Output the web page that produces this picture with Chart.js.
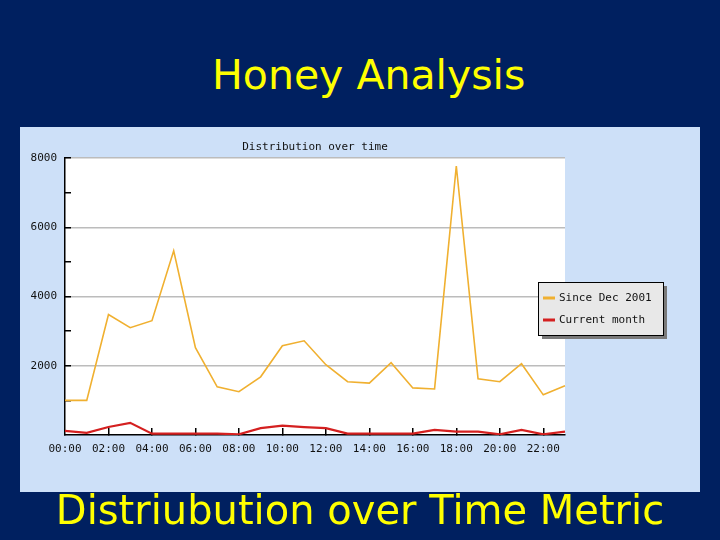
<!DOCTYPE html>
<html><head><meta charset="utf-8">
<script src="https://cdn.jsdelivr.net/npm/chart.js@4/dist/chart.umd.min.js"></script>
<style>
html,body{margin:0;padding:0;}
body{width:720px;height:540px;background:#002060;position:relative;overflow:hidden;font-family:"DejaVu Sans",sans-serif;}
#title{position:absolute;left:212px;top:55px;color:#ffff00;font-size:41px;line-height:41px;white-space:nowrap;}
#panel{position:absolute;left:20px;top:127px;width:680px;height:365px;background:#cde0f8;}
#foot{position:absolute;left:0;top:490px;width:720px;text-align:center;color:#ffff00;font-size:40px;line-height:40px;white-space:nowrap;z-index:2;}
</style></head>
<body>
<div id="title">Honey Analysis</div>
<div id="panel"><canvas id="c" width="680" height="365"></canvas></div>
<div id="foot">Distriubution over Time Metric</div>
<script>
const chartTitle = "Distribution over time";
const hours = ["00:00","01:00","02:00","03:00","04:00","05:00","06:00","07:00","08:00","09:00","10:00","11:00",
               "12:00","13:00","14:00","15:00","16:00","17:00","18:00","19:00","20:00","21:00","22:00","23:00"];
const seriesNames = ["Since Dec 2001","Current month"];
const sinceDec2001 = [1000,1000,3480,3100,3300,5320,2520,1390,1250,1680,2580,2720,
                      2030,1540,1500,2090,1360,1330,7770,1620,1540,2060,1160,1420];
const currentMonth = [120,60,230,350,40,40,40,40,20,200,270,230,
                      200,40,40,40,40,150,100,100,20,150,20,100];
const yTicks = [0,1000,2000,3000,4000,5000,6000,7000,8000];
const seriesColors = ["#f0b030","#d42020"];

const bgPlugin = {
  id: 'plotBg',
  beforeDraw(chart) {
    const ctx = chart.ctx, a = chart.chartArea;
    ctx.save();
    ctx.fillStyle = '#ffffff';
    ctx.fillRect(a.left, a.top, a.right - a.left, a.bottom - a.top);
    ctx.restore();
  }
};
const legendPlugin = {
  id: 'boxLegend',
  afterDraw(chart) {
    const ctx = chart.ctx;
    const x = 518, y = 155, w = 125, h = 53;
    ctx.save();
    ctx.fillStyle = '#7a7a7a';
    ctx.fillRect(x + 4, y + 4, w, h);
    ctx.fillStyle = '#e8e8e8';
    ctx.fillRect(x, y, w, h);
    ctx.strokeStyle = '#000';
    ctx.lineWidth = 1;
    ctx.strokeRect(x + 0.5, y + 0.5, w, h);
    ctx.font = '11px "DejaVu Sans Mono", monospace';
    ctx.textBaseline = 'middle';
    chart.data.datasets.forEach((ds, i) => {
      const ly = y + 16 + i * 22;
      ctx.fillStyle = ds.borderColor;
      ctx.fillRect(x + 5, ly - 1.5, 12, 3);
      ctx.fillStyle = '#111';
      ctx.fillText(ds.label, x + 21, ly);
    });
    ctx.restore();
  }
};
const titlePlugin = {
  id: 'smallTitle',
  afterDraw(chart) {
    const ctx = chart.ctx, a = chart.chartArea;
    ctx.save();
    ctx.font = '11px "DejaVu Sans Mono", monospace';
    ctx.fillStyle = '#111';
    ctx.textAlign = 'center';
    ctx.textBaseline = 'middle';
    ctx.fillText(chartTitle, (a.left + a.right) / 2, 20);
    ctx.restore();
  }
};

new Chart(document.getElementById('c'), {
  type: 'line',
  data: {
    labels: hours,
    datasets: [
      {label: seriesNames[0], data: sinceDec2001, borderColor: seriesColors[0], borderWidth: 1.6, pointRadius: 0, tension: 0},
      {label: seriesNames[1], data: currentMonth, borderColor: seriesColors[1], borderWidth: 2.2, pointRadius: 0, tension: 0}
    ]
  },
  options: {
    responsive: false,
    devicePixelRatio: 1,
    animation: false,
    layout: {padding: {top: 31, right: 135, left: 0, bottom: 0}},
    plugins: {legend: {display: false}, title: {display: false}, tooltip: {enabled: false}},
    scales: {
      x: {
        type: 'category',
        offset: false,
        afterFit(s) { s.height = 57; },
        border: {display: true, color: '#000', width: 1.5},
        grid: {
          drawOnChartArea: false, drawTicks: true, tickLength: -7, lineWidth: 1.5,
          tickColor: c => (c.index % 2 === 0 && c.index > 0) ? '#000' : 'rgba(0,0,0,0)'
        },
        ticks: {
          autoSkip: false, maxRotation: 0, padding: 15, color: '#111',
          font: {family: '"DejaVu Sans Mono", monospace', size: 11},
          callback: (v, i) => i % 2 === 0 ? hours[i] : ''
        }
      },
      y: {
        min: yTicks[0], max: yTicks[yTicks.length - 1],
        afterFit(s) { s.width = 45; },
        afterBuildTicks(s) { s.ticks = yTicks.map(v => ({value: v})); },
        border: {display: true, color: '#000', width: 1.5},
        grid: {
          lineWidth: 1.5, tickLength: -6,
          color: c => (c.tick && c.tick.value % 2000 === 0 && c.tick.value > 0) ? '#bcbcbc' : 'rgba(0,0,0,0)',
          tickColor: c => (c.tick && c.tick.value > 0) ? '#000' : 'rgba(0,0,0,0)'
        },
        ticks: {
          padding: 14, color: '#111',
          font: {family: '"DejaVu Sans Mono", monospace', size: 11},
          callback: v => (v % 2000 === 0 && v > 0) ? String(v) : ''
        }
      }
    }
  },
  plugins: [bgPlugin, titlePlugin, legendPlugin]
});
</script>
</body></html>
